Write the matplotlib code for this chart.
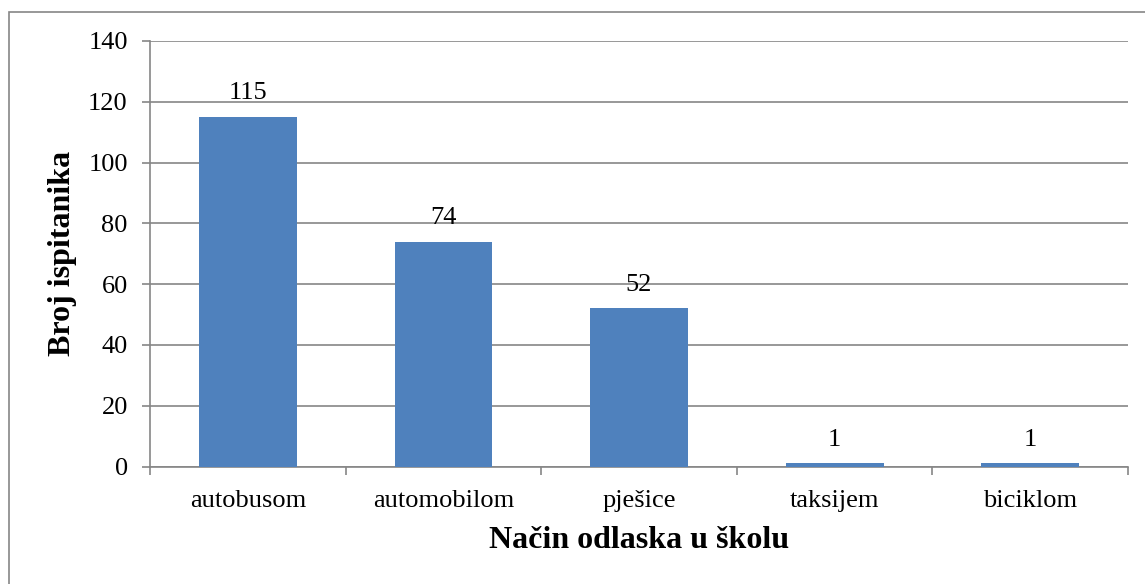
import matplotlib.pyplot as plt
from matplotlib.patches import Rectangle
import numpy as np

categories = ['autobusom', 'automobilom', 'pješice', 'taksijem', 'biciklom']
values = [115, 74, 52, 1, 1]
y_ticks = [0, 20, 40, 60, 80, 100, 120, 140]

plt.rcParams['font.family'] = ['Liberation Serif', 'DejaVu Serif']

W, H = 1145, 584
fig = plt.figure(figsize=(W / 100, H / 100), dpi=100)
ax = fig.add_axes([150 / W, 1 - 466.5 / H, (1128 - 150) / W, (466.5 - 41) / H])

grid_col = '#868686'
x = np.arange(len(categories))
ax.bar(x, values, width=0.5, color='#4F81BD', zorder=3)

for xi, v in zip(x, values):
    ax.annotate(str(v), (xi, v), xytext=(0, 9), textcoords='offset points',
                ha='center', va='bottom', fontsize=19)

ax.set_xlim(-0.5, len(categories) - 0.5)
ax.set_ylim(0, 140)
ax.set_yticks(y_ticks)
ax.set_xticks(x)
ax.set_xticklabels(categories)
ax.set_xticks(np.arange(len(categories) + 1) - 0.5, minor=True)
ax.tick_params(axis='x', which='major', length=0, pad=17, labelsize=19)
ax.tick_params(axis='x', which='minor', length=6, color=grid_col, width=1.2)
ax.tick_params(axis='y', length=6, color=grid_col, width=1.2, labelsize=19, pad=10)
ax.yaxis.grid(True, color=grid_col, linewidth=1.2, zorder=0)

for s in ['top', 'right']:
    ax.spines[s].set_visible(False)
for s in ['left', 'bottom']:
    ax.spines[s].set_color(grid_col)
    ax.spines[s].set_linewidth(1.2)

ax.set_xlabel('Način odlaska u školu', fontsize=23, fontweight='bold', labelpad=10)
ax.set_ylabel('Broj ispitanika', fontsize=23, fontweight='bold', labelpad=8)

# outer chart border
fig.patches.append(Rectangle((9 / W, -0.05), 1.1, 1 - 12 / H + 0.05,
                             transform=fig.transFigure, fill=False,
                             edgecolor=grid_col, linewidth=1.2))

fig.savefig('out.png', dpi=100)
